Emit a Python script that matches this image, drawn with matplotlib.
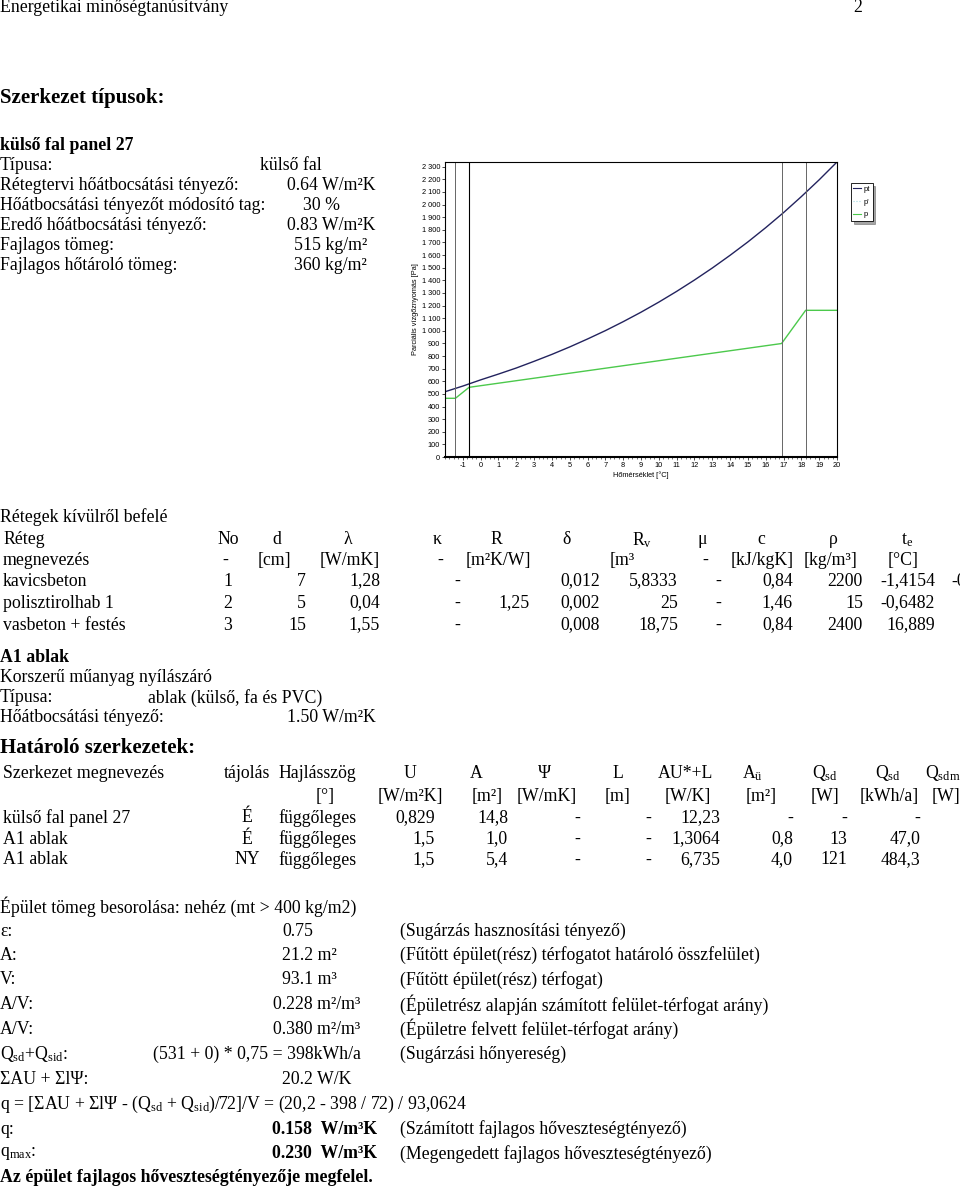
import matplotlib
matplotlib.use("Agg")
import matplotlib.pyplot as plt
from matplotlib.ticker import MultipleLocator, FuncFormatter
from matplotlib.lines import Line2D

plt.rcParams['font.family'] = ['Liberation Serif', 'DejaVu Serif']
plt.rcParams['mathtext.fontset'] = 'custom'
plt.rcParams['mathtext.rm'] = 'Liberation Serif'
plt.rcParams['mathtext.it'] = 'Liberation Serif:italic'
plt.rcParams['mathtext.bf'] = 'Liberation Serif:bold'
plt.rcParams['axes.unicode_minus'] = False

# ---------------- chart data ----------------
temps_pt = [-2, -1, 0, 1, 2, 3, 4, 5, 6, 7, 8, 9, 10, 11, 12, 13, 14, 15, 16, 17, 18, 19, 20]
pt_values = [517, 562, 611, 657, 705, 758, 813, 872, 935, 1001, 1072, 1147, 1227, 1312,
             1402, 1497, 1598, 1704, 1817, 1936, 2063, 2196, 2337]
temps_p = [-2, -1.4154, -0.6482, 16.889, 18.24, 20]
p_values = [465, 465, 552, 899, 1162, 1162]
layer_bounds = [-1.4154, -0.6482, 16.889, 18.24]
x_ticks = list(range(-1, 21))
y_ticks = list(range(0, 2301, 100))
legend_labels = ["pt", "p'", "p"]

# ---------------- page text data ----------------
wall_props = [("Típusa:", "külső fal", 260),
              ("Rétegtervi hőátbocsátási tényező:", "0.64 W/m²K", 287),
              ("Hőátbocsátási tényezőt módosító tag:", "30 %", 303),
              ("Eredő hőátbocsátási tényező:", "0.83 W/m²K", 287),
              ("Fajlagos tömeg:", "515 kg/m²", 294),
              ("Fajlagos hőtároló tömeg:", "360 kg/m²", 294)]

layer_names = ["kavicsbeton", "polisztirolhab 1", "vasbeton + festés"]
layer_no = ["1", "2", "3"]
layer_d = ["7", "5", "15"]
layer_lambda = ["1,28", "0,04", "1,55"]
layer_R = ["", "1,25", ""]
layer_delta = ["0,012", "0,002", "0,008"]
layer_Rv = ["5,8333", "25", "18,75"]
layer_c = ["0,84", "1,46", "0,84"]
layer_rho = ["2200", "15", "2400"]
layer_te = ["-1,4154", "-0,6482", "16,889"]
layer_ti = ["-0,6482", "", ""]

bound_names = ["külső fal panel 27", "A1 ablak", "A1 ablak"]
bound_orient = ["É", "É", "NY"]
bound_tilt = ["függőleges", "függőleges", "függőleges"]
bound_U = ["0,829", "1,5", "1,5"]
bound_A = ["14,8", "1,0", "5,4"]
bound_psi = ["-", "-", "-"]
bound_L = ["-", "-", "-"]
bound_AUL = ["12,23", "1,3064", "6,735"]
bound_Au = ["-", "0,8", "4,0"]
bound_Qsd_W = ["-", "13", "121"]
bound_Qsd_kWh = ["-", "47,0", "484,3"]

W, H = 960, 1189
FS = 12.8
fig = plt.figure(figsize=(W / 100, H / 100), dpi=100)


def T(x, y, s, size=FS, ha='left', weight='normal', **kw):
    fig.text(x / W, 1 - y / H, s, ha=ha, va='center', fontsize=size,
             fontweight=weight, **kw)


# header
T(0, 7, "Energetikai minőségtanúsítvány")
T(853, 7, "2")
T(0, 98, "Szerkezet típusok:", size=15, weight='bold')
T(0, 146, "külső fal panel 27", weight='bold')
for i, (lab, val, xv) in enumerate(wall_props):
    y = 166 + 20 * i
    T(0, y, lab)
    T(xv, y, val)

# ---------------- chart ----------------
ax = fig.add_axes([445 / W, 1 - 457 / H, 392 / W, 295 / H])
ax.plot(temps_pt, pt_values, color='#23235e', lw=1.0)
ax.plot(temps_p, p_values, color='#4cc94c', lw=1.0)
for i, xb in enumerate(layer_bounds):
    ax.axvline(xb, color='black' if i == 1 else '#666666', lw=0.8 if i == 1 else 0.7)
ax.set_xlim(-2, 20)
ax.set_ylim(0, 2337)
ax.set_xticks(x_ticks)
ax.xaxis.set_minor_locator(MultipleLocator(0.25))
ax.set_yticks(y_ticks)
ax.yaxis.set_major_formatter(FuncFormatter(lambda v, p: f"{int(v):,}".replace(",", " ")))
ax.tick_params(axis='both', labelsize=5.3, length=2, width=0.5, pad=1.5)
ax.tick_params(axis='x', which='minor', length=1.2, width=0.4)
for lab in ax.get_xticklabels() + ax.get_yticklabels():
    lab.set_fontfamily('Liberation Sans')
for sp in ax.spines.values():
    sp.set_linewidth(0.8)
ax.spines['bottom'].set_linewidth(1.5)
ax.set_xlabel("Hőmérséklet [°C]", fontsize=5.3, family='Liberation Sans', labelpad=2)
ax.set_ylabel("Parciális vízgőznyomás [Pa]", fontsize=5.3, family='Liberation Sans', labelpad=2)

handles = [Line2D([], [], color='#23235e', lw=0.8),
           Line2D([], [], color='#9fd8e0', lw=0.8, ls=':'),
           Line2D([], [], color='#4cc94c', lw=0.8)]
leg = fig.legend(handles, legend_labels, loc='upper left',
                 bbox_to_anchor=(847 / W, 1 - 179 / H),
                 handlelength=1.0, handletextpad=0.3, borderpad=0.35,
                 labelspacing=0.7, fancybox=False, shadow=True,
                 prop={'family': 'Liberation Sans', 'size': 5.5})
leg.get_frame().set_edgecolor('black')
leg.get_frame().set_linewidth(0.6)

# ---------------- layers table ----------------
T(0, 517, "Rétegek kívülről befelé")
T(3, 540, "Réteg")
T(228, 540, "No", ha='center')
T(277, 540, "d", ha='center')
T(348, 540, "λ", ha='center')
T(437, 540, "κ", ha='center')
T(496, 540, "R", ha='center')
T(567, 540, "δ", ha='center')
T(642, 540, "R$_{\\mathrm{v}}$", ha='center')
T(702, 540, "μ", ha='center')
T(761, 540, "c", ha='center')
T(833, 540, "ρ", ha='center')
T(907, 540, "t$_{\\mathrm{e}}$", ha='center')

T(3, 560, "megnevezés")
T(225, 560, "-", ha='center')
T(274, 560, "[cm]", ha='center')
T(350, 560, "[W/mK]", ha='center')
T(440, 560, "-", ha='center')
T(498, 560, "[m²K/W]", ha='center')
T(610, 560, "[m³")
T(705, 560, "-", ha='center')
T(762, 560, "[kJ/kgK]", ha='center')
T(831, 560, "[kg/m³]", ha='center')
T(903, 560, "[°C]", ha='center')

for i in range(3):
    y = 581 + 22 * i
    T(3, y, layer_names[i])
    T(228, y, layer_no[i], ha='center')
    T(306, y, layer_d[i], ha='right')
    T(380, y, layer_lambda[i], ha='right')
    T(457, y, "-", ha='center')
    T(530, y, layer_R[i], ha='right')
    T(600, y, layer_delta[i], ha='right')
    T(678, y, layer_Rv[i], ha='right')
    T(718, y, "-", ha='center')
    T(793, y, layer_c[i], ha='right')
    T(863, y, layer_rho[i], ha='right')
    T(935, y, layer_te[i], ha='right')
    if layer_ti[i]:
        T(951, y, layer_ti[i])

# ---------------- window ----------------
T(0, 658, "A1 ablak", weight='bold')
T(0, 678, "Korszerű műanyag nyílászáró")
T(0, 698, "Típusa:")
T(148, 698, "ablak (külső, fa és PVC)")
T(0, 718, "Hőátbocsátási tényező:")
T(287, 718, "1.50 W/m²K")

# ---------------- boundary structures ----------------
T(0, 748, "Határoló szerkezetek:", size=15, weight='bold')
T(3, 773, "Szerkezet megnevezés")
T(224, 773, "tájolás")
T(278, 773, "Hajlásszög")
T(410, 773, "U", ha='center')
T(476, 773, "A", ha='center')
T(545, 773, "Ψ", ha='center')
T(618, 773, "L", ha='center')
T(686, 773, "AU*+L", ha='center')
T(752, 773, "A$_{\\mathrm{ü}}$", ha='center')
T(825, 773, "Q$_{\\mathrm{sd}}$", ha='center')
T(888, 773, "Q$_{\\mathrm{sd}}$", ha='center')
T(925, 773, "Q$_{\\mathrm{sdm}}$")

T(325, 796, "[°]", ha='center')
T(410, 796, "[W/m²K]", ha='center')
T(472, 796, "[m²]")
T(547, 796, "[W/mK]", ha='center')
T(618, 796, "[m]", ha='center')
T(688, 796, "[W/K]", ha='center')
T(761, 796, "[m²]", ha='center')
T(825, 796, "[W]", ha='center')
T(889, 796, "[kWh/a]", ha='center')
T(932, 796, "[W]")

for i in range(3):
    y = 818 + 21 * i
    T(3, y, bound_names[i])
    T(247, y, bound_orient[i], ha='center')
    T(278, y, bound_tilt[i])
    T(435, y, bound_U[i], ha='right')
    T(508, y, bound_A[i], ha='right')
    T(577, y, bound_psi[i], ha='center')
    T(648, y, bound_L[i], ha='center')
    T(720, y, bound_AUL[i], ha='right')
    T(793, y, bound_Au[i], ha='right')
    T(847, y, bound_Qsd_W[i], ha='right')
    T(920, y, bound_Qsd_kWh[i], ha='right')

# ---------------- summary ----------------
T(0, 907, "Épület tömeg besorolása: nehéz (mt > 400 kg/m2)")
summary = [("ε:", "0.75", 282, "(Sugárzás hasznosítási tényező)"),
           ("A:", "21.2 m²", 282, "(Fűtött épület(rész) térfogatot határoló összfelület)"),
           ("V:", "93.1 m³", 282, "(Fűtött épület(rész) térfogat)"),
           ("A/V:", "0.228 m²/m³", 273, "(Épületrész alapján számított felület-térfogat arány)"),
           ("A/V:", "0.380 m²/m³", 273, "(Épületre felvett felület-térfogat arány)")]
for i, (a, b, xb, c) in enumerate(summary):
    y = 931 + 24.5 * i
    T(0, y, a)
    T(xb, y, b)
    T(400, y, c)

T(0, 1054, "Q$_{\\mathrm{sd}}$+Q$_{\\mathrm{sid}}$:")
T(153, 1054, "(531 + 0) * 0,75 = 398kWh/a")
T(400, 1054, "(Sugárzási hőnyereség)")
T(0, 1079, "ΣAU + ΣlΨ:")
T(282, 1079, "20.2 W/K")
T(0, 1104, "q = [ΣAU + ΣlΨ - (Q$_{\\mathrm{sd}}$ + Q$_{\\mathrm{sid}}$)/72]/V = (20,2 - 398 / 72) / 93,0624")
T(0, 1129, "q:")
T(272, 1129, "0.158  W/m³K", weight='bold')
T(400, 1129, "(Számított fajlagos hőveszteségtényező)")
T(0, 1154, "q$_{\\mathrm{max}}$:")
T(272, 1154, "0.230  W/m³K", weight='bold')
T(400, 1154, "(Megengedett fajlagos hőveszteségtényező)")
T(0, 1178, "Az épület fajlagos hőveszteségtényezője megfelel.", weight='bold')

fig.savefig("out.png", dpi=100)
